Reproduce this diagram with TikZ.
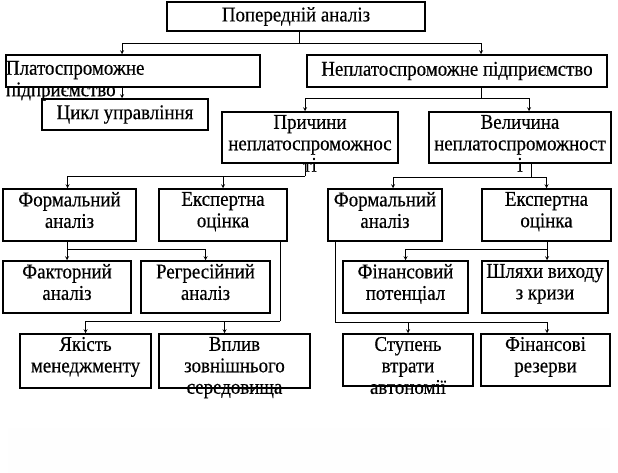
\documentclass[tikz,border=0pt]{standalone}
\usepackage{fontspec}
\setmainfont{Liberation Serif}[FakeStretch=0.9,FakeBold=0.4]
\usetikzlibrary{arrows}

\tikzset{
    blk/.style 2 args={
        execute at begin node={\begin{minipage}[c][#2][c]{#1}\centering},
        execute at end node={\end{minipage}}
    },
    tblk/.style 2 args={
        execute at begin node={\begin{minipage}[c][#2][t]{#1}\vspace*{3pt}\centering},
        execute at end node={\end{minipage}}
    },
    lblk/.style 2 args={
        execute at begin node={\begin{minipage}[c][#2][t]{#1}\vspace*{6pt}\raggedright},
        execute at end node={\end{minipage}}
    }
}

\begin{document}
\begin{tikzpicture}[
                > = stealth, % arrow head style
                x = 1pt, y = -1pt, % pixel grid, y downwards
                line width = 0.8pt % connector style
            ]

            \tikzstyle{every node}=[
            draw = black,
            rectangle,
            line width = 1.5pt,
            inner sep = 0pt,
            font = \fontsize{21}{21.5}\selectfont
            ]

            \useasboundingbox (0,0) rectangle (618,473);
            \fill[black!0.5] (8,428) rectangle (610,473);

            % top levels
            \node[blk={258pt}{29pt}] (root) at (296,16.5) {Попередній аналіз};
            \node[lblk={254pt}{32pt}] (solvent) at (133,71) {Платоспроможне\\підприємство};
            \node[blk={300pt}{32pt}] (insolvent) at (457,71) {Неплатоспроможне підприємство};
            \node[blk={166pt}{31pt}] (cycle) at (125,114.5) {Цикл управління};
            \node[tblk={176pt}{51pt}] (causes) at (310,137.5) {Причини\\неплатоспроможнос\\ті};
            \node[tblk={182pt}{51pt}] (magnitude) at (520,137.5) {Величина\\неплатоспроможност\\і};

            % left branch
            \node[tblk={133pt}{52pt}] (formL) at (69.5,215) {Формальний\\аналіз};
            \node[tblk={128pt}{52pt}] (expL) at (223,215) {Експертна\\оцінка};
            \node[tblk={128pt}{52pt}] (factor) at (67,287) {Факторний\\аналіз};
            \node[tblk={129pt}{52pt}] (regress) at (205.5,287) {Регресійний\\аналіз};
            \node[tblk={131pt}{54pt}] (mgmt) at (85.5,361) {Якість\\менеджменту};
            \node[tblk={151pt}{54pt}] (env) at (234.5,361) {Вплив\\зовнішнього\\середовища};

            % right branch
            \node[tblk={114pt}{52pt}] (formR) at (385,215) {Формальний\\аналіз};
            \node[tblk={129pt}{52pt}] (expR) at (546.5,215) {Експертна\\оцінка};
            \node[tblk={125pt}{52pt}] (potential) at (405.5,287) {Фінансовий\\потенціал};
            \node[tblk={126pt}{52pt}] (exits) at (545,287) {Шляхи виходу\\з кризи};
            \node[tblk={130pt}{52pt}] (autonomy) at (408,360) {Ступень\\втрати\\автономії};
            \node[tblk={129pt}{52pt}] (reserves) at (545.5,360) {Фінансові\\резерви};

            % joints
            \coordinate (j1) at (299,43);
            \coordinate (j2) at (481,98);
            \coordinate (j3) at (305,176);
            \coordinate (j4) at (531,177);
            \coordinate (j5) at (67,249);
            \coordinate (j6) at (280,321);
            \coordinate (j7) at (547,249);
            \coordinate (j8) at (335,322);

            \draw (root.south -| j1) -- (j1);
            \draw[->] (j1) -| ([xshift=-11pt]solvent.north);
            \draw[->] (j1) -| ([xshift=24pt]insolvent.north);
            \draw[->] ([xshift=-3pt]cycle.north |- solvent.south) -- ([xshift=-3pt]cycle.north);

            \draw (insolvent.south -| j2) -- (j2);
            \draw[->] (j2) -| ([xshift=-5pt]causes.north);
            \draw[->] (j2) -| ([xshift=9pt]magnitude.north);

            \draw (causes.south -| j3) -- (j3);
            \draw[->] (j3) -| ([xshift=-2pt]formL.north);
            \draw[->] (j3) -| (expL.north);

            \draw (magnitude.south -| j4) -- (j4);
            \draw[->] (j4) -| ([xshift=8pt]formR.north);
            \draw[->] (j4) -| (expR.north);

            \draw (formL.south -| j5) -- (j5);
            \draw[->] (j5) -- (factor.north);
            \draw[->] (j5) -| (regress.north);

            \draw (expL.south -| j6) -- (j6);
            \draw[->] (j6) -| (mgmt.north);
            \draw[->] (j6) -| ([xshift=-10pt]env.north);

            \draw (expR.south -| j7) -- (j7);
            \draw[->] (j7) -| (potential.north);
            \draw[->] (j7) -- ([xshift=2pt]exits.north);

            \draw (formR.south -| j8) -- (j8);
            \draw[->] (j8) -| (autonomy.north);
            \draw[->] (j8) -| ([xshift=1.5pt]reserves.north);
        \end{tikzpicture}
\end{document}
